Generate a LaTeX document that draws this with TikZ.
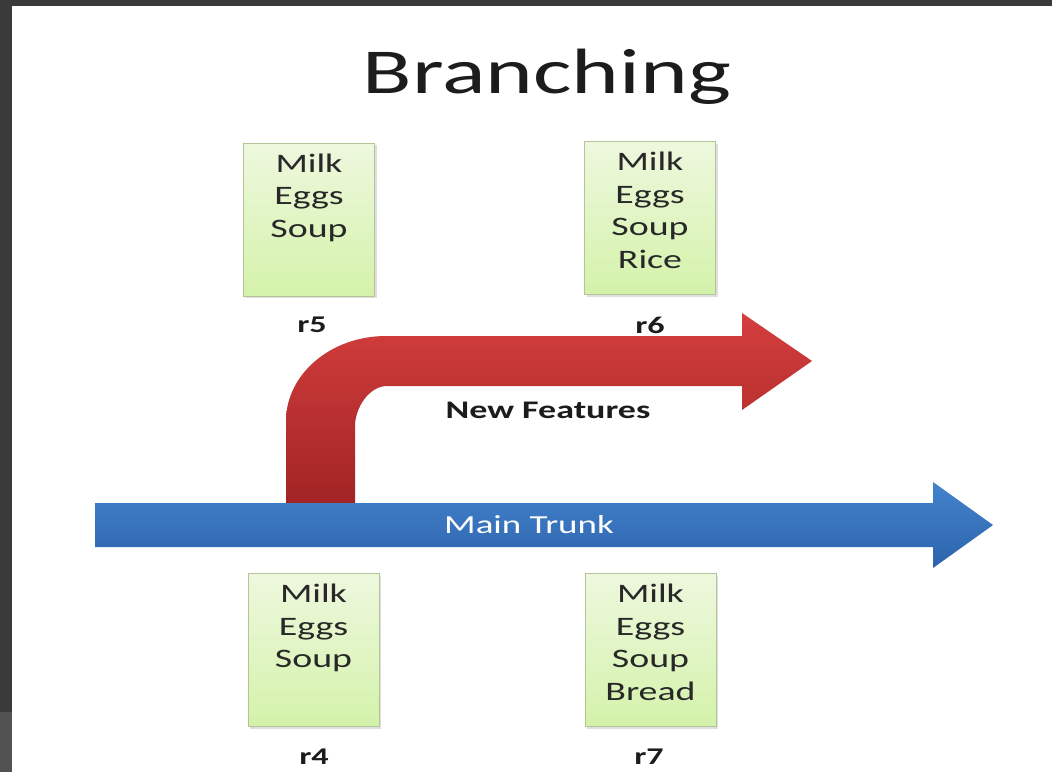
\documentclass[tikz,border=0pt]{standalone}
\usepackage{fontspec}
\setmainfont{Carlito}[FakeStretch=1.42]
\usetikzlibrary{calc,shadows}

\definecolor{frame}{RGB}{58,58,58}
\definecolor{framelow}{RGB}{82,82,82}
\definecolor{ink}{RGB}{28,28,28}
\definecolor{boxink}{RGB}{40,40,40}
\definecolor{boxtop}{RGB}{238,248,222}
\definecolor{boxbot}{RGB}{212,242,170}
\definecolor{boxline}{RGB}{178,196,152}
\definecolor{redtop}{RGB}{212,62,62}
\definecolor{redbot}{RGB}{162,36,36}
\definecolor{bluetop}{RGB}{68,130,205}
\definecolor{bluebot}{RGB}{44,100,172}

\tikzset{
  listbox/.style={draw=boxline, line width=0.75pt,
    top color=boxtop, bottom color=boxbot,
    minimum width=98.25pt, minimum height=114.75pt, inner sep=0pt,
    drop shadow={shadow xshift=1.5pt, shadow yshift=-1.5pt, opacity=0.25}},
  items/.style={anchor=north, align=center, inner sep=0pt, text=boxink,
    font=\fontsize{20}{24.4}\selectfont},
  rev/.style={text=ink, inner sep=0pt, font=\fontsize{18}{20}\selectfont\bfseries},
}

\begin{document}
\begin{tikzpicture}[x=0.75pt,y=-0.75pt]
\useasboundingbox (0,0) rectangle (1052,772);

% slide frame
\fill[frame] (0,0) rectangle (1052,772);
\fill[framelow] (0,712) rectangle (12,772);
\fill[white] (12,6) rectangle (1052,772);

% title
\node[anchor=base, text=ink, inner sep=0pt, font=\fontsize{48}{54}\selectfont]
  (title) at (547,93) {Branching};

% feature branch arrow
\shade[top color=redtop, bottom color=redbot]
  (286,503) -- (286,421) .. controls (286,374) and (331,336) .. (386,336)
  -- (742,336) -- (742,313) -- (812,361) -- (742,410) -- (742,386)
  -- (387,386) .. controls (369,386) and (355,408) .. (355,426)
  -- (355,503) -- cycle;

% main trunk arrow
\shade[top color=bluetop, bottom color=bluebot]
  (95,503) -- (933,503) -- (933,482) -- (993,525) -- (933,568)
  -- (933,547) -- (95,547) -- cycle;

\node[text=white, inner sep=0pt, font=\fontsize{19.5}{21}\selectfont]
  (trunk) at (529,525) {Main Trunk};
\node[rev, font=\fontsize{19}{21}\selectfont\bfseries] (feat) at (548,410) {New Features};

% revisions on the branch
\node[listbox] (b5) at (309,219.5) {};
\node[items] (t5) at ($(b5.north)+(0,11)$) {Milk\\Eggs\\Soup};
\node[rev] (r5) at (312,325) {r5};

\node[listbox] (b6) at (650,218) {};
\node[items] (t6) at ($(b6.north)+(0,11)$) {Milk\\Eggs\\Soup\\Rice};
\node[rev] (r6) at (650,325) {r6};

% revisions on the trunk
\node[listbox] (b4) at (313.5,650) {};
\node[items] (t4) at ($(b4.north)+(0,11)$) {Milk\\Eggs\\Soup};
\node[rev] (r4) at (314,757) {r4};

\node[listbox] (b7) at (650.5,650) {};
\node[items] (t7) at ($(b7.north)+(0,11)$) {Milk\\Eggs\\Soup\\Bread};
\node[rev] (r7) at (649,757) {r7};
\end{tikzpicture}
\end{document}
